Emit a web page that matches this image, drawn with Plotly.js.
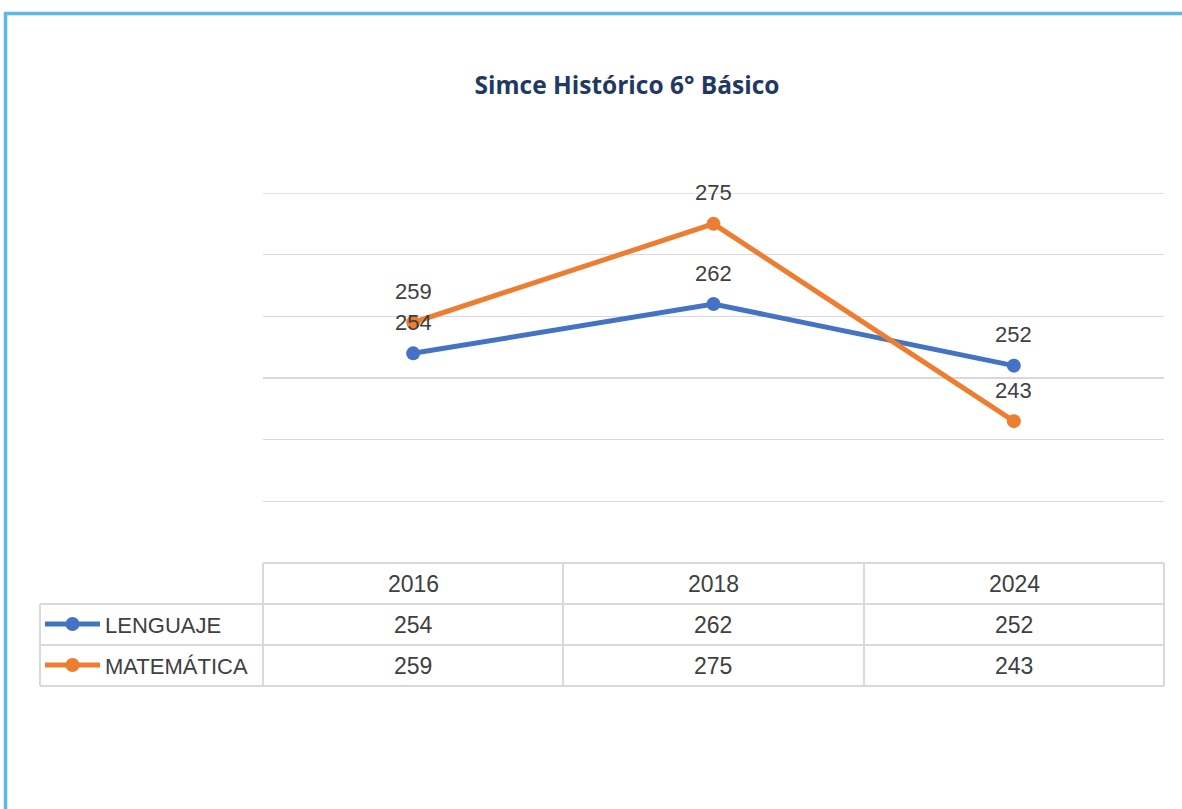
<!DOCTYPE html>
<html>
<head>
<meta charset="utf-8">
<script src="https://cdn.plot.ly/plotly-3.0.1.min.js"></script>
<style>html,body{margin:0;padding:0;background:#fff;}#chart{width:1182px;height:809px;}</style>
</head>
<body>
<div id="chart"></div>
<script>
const years = ['2016', '2018', '2024'];
const seriesNames = ['LENGUAJE', 'MATEMÁTICA'];
const lenguaje = [254, 262, 252];
const matematica = [259, 275, 243];
const colors = ['#4472C4', '#ED7D31'];
const chartTitle = 'Simce Histórico 6° Básico';

const W = 1182, H = 809;
const L = 263, R = 1164, T = 193, B = 563;
const px = x => (x - L) / (R - L);
const py = y => (B - y) / (B - T);
const FONT = 'Liberation Sans, Arial, sans-serif';
const TXT = '#404040';
const GRID = '#d9d9d9';
const Y_MIN = 220, Y_MAX = 280;

const allSeries = [lenguaje, matematica];
const traces = allSeries.map((vals, i) => ({
  type: 'scatter', mode: 'lines+markers', x: years, y: vals, name: seriesNames[i],
  line: {color: colors[i], width: 5}, marker: {color: colors[i], size: 14},
  hoverinfo: 'x+y', showlegend: false
}));

const annotations = [];
// data labels (category index positions)
allSeries.forEach(vals => vals.forEach((v, j) => annotations.push({
  x: j, y: v, xref: 'x', yref: 'y', text: String(v), showarrow: false,
  xanchor: 'center', yanchor: 'middle',
  yshift: 31, font: {family: FONT, size: 22, color: TXT}
})));
// table
const colCenters = [413, 713, 1014];
const rowCenters = [584, 625, 666];
years.forEach((yr, j) => annotations.push({
  x: px(colCenters[j]), y: py(rowCenters[0]), xref: 'paper', yref: 'paper', text: yr,
  xanchor: 'center', yanchor: 'middle',
  showarrow: false, font: {family: FONT, size: 23, color: TXT}
}));
allSeries.forEach((vals, i) => {
  vals.forEach((v, j) => annotations.push({
    x: px(colCenters[j]), y: py(rowCenters[i + 1]), xref: 'paper', yref: 'paper', text: String(v),
    xanchor: 'center', yanchor: 'middle',
    showarrow: false, font: {family: FONT, size: 23, color: TXT}
  }));
  annotations.push({
    x: px(103), y: py(rowCenters[i + 1]), xref: 'paper', yref: 'paper', text: seriesNames[i],
    xanchor: 'left', yanchor: 'middle', showarrow: false, font: {family: FONT, size: 22, color: TXT}
  });
});

const shapes = [];
const line = (x0, y0, x1, y1, color, width) => shapes.push({
  type: 'line', xref: 'paper', yref: 'paper', x0: px(x0), y0: py(y0), x1: px(x1), y1: py(y1),
  line: {color: color, width: width}, layer: 'below'
});
// top gridline at axis max
shapes.push({type: 'line', xref: 'paper', yref: 'y', x0: 0, x1: 1, y0: Y_MAX, y1: Y_MAX, line: {color: GRID, width: 1.5}, layer: 'below'});
// table grid
line(263, 563, 1164, 563, GRID, 2);
line(40, 604, 1164, 604, GRID, 2);
line(40, 645, 1164, 645, GRID, 2);
line(40, 686, 1164, 686, GRID, 2);
line(40, 604, 40, 686, GRID, 2);
[263, 563, 864, 1164].forEach(x => line(x, 563, x, 686, GRID, 2));
// legend glyphs
colors.forEach((c, i) => {
  const yc = rowCenters[i + 1] - 1;
  shapes.push({type: 'line', xref: 'paper', yref: 'paper', x0: px(45), x1: px(100), y0: py(yc), y1: py(yc), line: {color: c, width: 5}});
  shapes.push({type: 'circle', xref: 'paper', yref: 'paper', x0: px(65.5), x1: px(79.5), y0: py(yc - 7), y1: py(yc + 7), fillcolor: c, line: {color: c, width: 0}});
});
// outer frame
shapes.push({type: 'line', xref: 'paper', yref: 'paper', x0: px(5.5), x1: px(5.5), y0: py(12), y1: py(809), line: {color: '#5DB9E8', width: 3.5}});
shapes.push({type: 'line', xref: 'paper', yref: 'paper', x0: px(4), x1: px(1182), y0: py(13.5), y1: py(13.5), line: {color: '#5DB9E8', width: 3.5}});

const layout = {
  width: W, height: H,
  margin: {l: L, r: W - R, t: T, b: H - B},
  paper_bgcolor: '#ffffff', plot_bgcolor: '#ffffff',
  title: {text: '<b>' + chartTitle + '</b>', x: px(627), xref: 'paper', xanchor: 'center', y: 1 - 85 / H, yanchor: 'middle',
    font: {family: 'Open Sans, Liberation Sans, sans-serif', size: 24.5, color: '#1F3864'}},
  xaxis: {type: 'category', range: [-0.5, 2.5], showticklabels: false, showgrid: false, zeroline: false, showline: false, ticks: ''},
  yaxis: {range: [Y_MIN, Y_MAX], dtick: 10, showticklabels: false, showgrid: true, gridcolor: GRID, gridwidth: 1.5, zeroline: false, showline: false, ticks: ''},
  annotations: annotations, shapes: shapes, showlegend: false
};
Plotly.newPlot('chart', traces, layout, {displayModeBar: false, staticPlot: true});
</script>
</body>
</html>
